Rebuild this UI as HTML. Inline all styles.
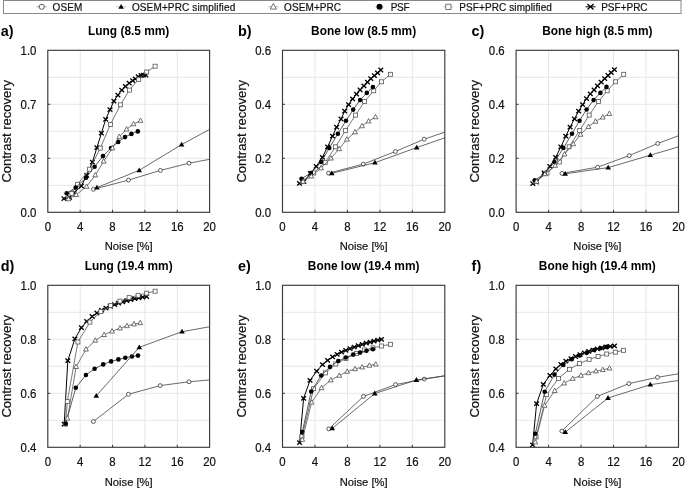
<!DOCTYPE html>
<html><head><meta charset="utf-8"><style>
html,body{margin:0;padding:0;background:#fff;}
svg{display:block;}
text{-webkit-font-smoothing:antialiased;}
body{will-change:transform;}
</style></head><body>
<svg width="685" height="489" viewBox="0 0 685 489" font-family='"Liberation Sans", sans-serif'>
<rect width="685" height="489" fill="#fff"/>
<defs>
<clipPath id="clipa"><rect x="47.8" y="44.3" width="161.8" height="168.0"/></clipPath>
<clipPath id="clipb"><rect x="282.5" y="44.3" width="162.3" height="168.0"/></clipPath>
<clipPath id="clipc"><rect x="516.1" y="44.3" width="162.4" height="168.0"/></clipPath>
<clipPath id="clipd"><rect x="47.8" y="279.3" width="161.8" height="168.0"/></clipPath>
<clipPath id="clipe"><rect x="282.5" y="279.3" width="162.3" height="168.0"/></clipPath>
<clipPath id="clipf"><rect x="516.1" y="279.3" width="162.4" height="168.0"/></clipPath>
</defs>
<rect x="3.5" y="0.5" width="677.5" height="13" fill="none" stroke="#888" stroke-width="1"/>
<line x1="36.7" y1="6.8" x2="46.7" y2="6.8" stroke="#777" stroke-width="0.7"/>
<circle cx="41.70" cy="6.80" r="2.54" fill="#fff" stroke="#333" stroke-width="0.8"/>
<text x="52.5" y="11.0" font-size="10" textLength="29.9" lengthAdjust="spacing" fill="#111" stroke="#111" stroke-width="0.2">OSEM</text>
<line x1="116.1" y1="6.8" x2="126.1" y2="6.8" stroke="#999" stroke-width="0.6"/>
<path d="M121.10,3.92 L123.90,8.72 L118.30,8.72Z" fill="#000"/>
<text x="131.9" y="11.0" font-size="10" textLength="103.3" lengthAdjust="spacing" fill="#111" stroke="#111" stroke-width="0.2">OSEM+PRC simplified</text>
<line x1="268.4" y1="6.8" x2="278.4" y2="6.8" stroke="#888" stroke-width="0.6"/>
<path d="M273.40,3.37 L276.52,9.09 L270.28,9.09Z" fill="#fff" stroke="#444" stroke-width="0.75"/>
<text x="284.1" y="11.0" font-size="10" textLength="57.0" lengthAdjust="spacing" fill="#111" stroke="#111" stroke-width="0.2">OSEM+PRC</text>
<line x1="374.5" y1="6.8" x2="384.5" y2="6.8" stroke="#bbb" stroke-width="0.6"/>
<circle cx="379.50" cy="6.80" r="2.99" fill="#000"/>
<text x="390.7" y="11.0" font-size="10" textLength="18.8" lengthAdjust="spacing" fill="#111" stroke="#111" stroke-width="0.2">PSF</text>
<line x1="443.4" y1="6.8" x2="453.4" y2="6.8" stroke="#999" stroke-width="0.6"/>
<rect x="445.80" y="4.20" width="5.20" height="5.20" fill="#fff" stroke="#555" stroke-width="0.8"/>
<text x="459.2" y="11.0" font-size="10" textLength="92.7" lengthAdjust="spacing" fill="#111" stroke="#111" stroke-width="0.2">PSF+PRC simplified</text>
<line x1="585.5" y1="6.8" x2="595.5" y2="6.8" stroke="#000" stroke-width="1.0"/>
<path d="M587.45,4.00 L593.55,9.59 M587.45,9.59 L593.55,4.00" stroke="#000" stroke-width="1.3" fill="none"/>
<text x="601.2" y="11.0" font-size="10" textLength="46.4" lengthAdjust="spacing" fill="#111" stroke="#111" stroke-width="0.2">PSF+PRC</text>
<line x1="80.16" y1="50.3" x2="80.16" y2="212.3" stroke="#e6e6e6" stroke-width="1"/>
<line x1="112.52" y1="50.3" x2="112.52" y2="212.3" stroke="#e6e6e6" stroke-width="1"/>
<line x1="144.88" y1="50.3" x2="144.88" y2="212.3" stroke="#e6e6e6" stroke-width="1"/>
<line x1="177.24" y1="50.3" x2="177.24" y2="212.3" stroke="#e6e6e6" stroke-width="1"/>
<line x1="47.8" y1="77.30" x2="209.60000000000002" y2="77.30" stroke="#e6e6e6" stroke-width="1"/>
<line x1="47.8" y1="104.30" x2="209.60000000000002" y2="104.30" stroke="#e6e6e6" stroke-width="1"/>
<line x1="47.8" y1="131.30" x2="209.60000000000002" y2="131.30" stroke="#e6e6e6" stroke-width="1"/>
<line x1="47.8" y1="158.30" x2="209.60000000000002" y2="158.30" stroke="#e6e6e6" stroke-width="1"/>
<line x1="47.8" y1="185.30" x2="209.60000000000002" y2="185.30" stroke="#e6e6e6" stroke-width="1"/>
<g clip-path="url(#clipa)">
<polyline points="64.00,198.70 69.50,197.40 74.00,192.80 81.40,186.00 86.70,175.30 92.40,162.10 96.90,147.60 101.40,133.20 105.70,119.40 110.00,109.70 113.90,101.10 117.90,95.10 121.80,90.10 125.40,86.40 129.20,83.20 132.70,80.70 135.30,78.80 138.20,76.70 141.10,75.50 143.40,75.20 145.80,75.00" fill="none" stroke="#000" stroke-width="1.0" stroke-linejoin="round"/>
<path d="M61.65,196.55 L66.35,200.85 M61.65,200.85 L66.35,196.55" stroke="#000" stroke-width="1.3" fill="none"/>
<path d="M67.15,195.25 L71.85,199.55 M67.15,199.55 L71.85,195.25" stroke="#000" stroke-width="1.3" fill="none"/>
<path d="M71.65,190.65 L76.35,194.95 M71.65,194.95 L76.35,190.65" stroke="#000" stroke-width="1.3" fill="none"/>
<path d="M79.05,183.85 L83.75,188.15 M79.05,188.15 L83.75,183.85" stroke="#000" stroke-width="1.3" fill="none"/>
<path d="M84.35,173.15 L89.05,177.45 M84.35,177.45 L89.05,173.15" stroke="#000" stroke-width="1.3" fill="none"/>
<path d="M90.05,159.95 L94.75,164.25 M90.05,164.25 L94.75,159.95" stroke="#000" stroke-width="1.3" fill="none"/>
<path d="M94.55,145.45 L99.25,149.75 M94.55,149.75 L99.25,145.45" stroke="#000" stroke-width="1.3" fill="none"/>
<path d="M99.05,131.05 L103.75,135.35 M99.05,135.35 L103.75,131.05" stroke="#000" stroke-width="1.3" fill="none"/>
<path d="M103.35,117.25 L108.05,121.55 M103.35,121.55 L108.05,117.25" stroke="#000" stroke-width="1.3" fill="none"/>
<path d="M107.65,107.55 L112.35,111.85 M107.65,111.85 L112.35,107.55" stroke="#000" stroke-width="1.3" fill="none"/>
<path d="M111.55,98.95 L116.25,103.25 M111.55,103.25 L116.25,98.95" stroke="#000" stroke-width="1.3" fill="none"/>
<path d="M115.55,92.95 L120.25,97.25 M115.55,97.25 L120.25,92.95" stroke="#000" stroke-width="1.3" fill="none"/>
<path d="M119.45,87.95 L124.15,92.25 M119.45,92.25 L124.15,87.95" stroke="#000" stroke-width="1.3" fill="none"/>
<path d="M123.05,84.25 L127.75,88.55 M123.05,88.55 L127.75,84.25" stroke="#000" stroke-width="1.3" fill="none"/>
<path d="M126.85,81.05 L131.55,85.35 M126.85,85.35 L131.55,81.05" stroke="#000" stroke-width="1.3" fill="none"/>
<path d="M130.35,78.55 L135.05,82.85 M130.35,82.85 L135.05,78.55" stroke="#000" stroke-width="1.3" fill="none"/>
<path d="M132.95,76.65 L137.65,80.95 M132.95,80.95 L137.65,76.65" stroke="#000" stroke-width="1.3" fill="none"/>
<path d="M135.85,74.55 L140.55,78.85 M135.85,78.85 L140.55,74.55" stroke="#000" stroke-width="1.3" fill="none"/>
<path d="M138.75,73.35 L143.45,77.65 M138.75,77.65 L143.45,73.35" stroke="#000" stroke-width="1.3" fill="none"/>
<path d="M141.05,73.05 L145.75,77.35 M141.05,77.35 L145.75,73.05" stroke="#000" stroke-width="1.3" fill="none"/>
<path d="M143.45,72.85 L148.15,77.15 M143.45,77.15 L148.15,72.85" stroke="#000" stroke-width="1.3" fill="none"/>
<polyline points="71.80,193.30 77.60,184.30 89.60,169.20 100.30,148.10 110.40,124.50 120.50,104.80 129.40,90.10 138.70,79.30 146.70,72.00 155.10,66.20" fill="none" stroke="#555" stroke-width="0.8" stroke-linejoin="round"/>
<rect x="69.80" y="191.30" width="4.00" height="4.00" fill="#fff" stroke="#555" stroke-width="0.8"/>
<rect x="75.60" y="182.30" width="4.00" height="4.00" fill="#fff" stroke="#555" stroke-width="0.8"/>
<rect x="87.60" y="167.20" width="4.00" height="4.00" fill="#fff" stroke="#555" stroke-width="0.8"/>
<rect x="98.30" y="146.10" width="4.00" height="4.00" fill="#fff" stroke="#555" stroke-width="0.8"/>
<rect x="108.40" y="122.50" width="4.00" height="4.00" fill="#fff" stroke="#555" stroke-width="0.8"/>
<rect x="118.50" y="102.80" width="4.00" height="4.00" fill="#fff" stroke="#555" stroke-width="0.8"/>
<rect x="127.40" y="88.10" width="4.00" height="4.00" fill="#fff" stroke="#555" stroke-width="0.8"/>
<rect x="136.70" y="77.30" width="4.00" height="4.00" fill="#fff" stroke="#555" stroke-width="0.8"/>
<rect x="144.70" y="70.00" width="4.00" height="4.00" fill="#fff" stroke="#555" stroke-width="0.8"/>
<rect x="153.10" y="64.20" width="4.00" height="4.00" fill="#fff" stroke="#555" stroke-width="0.8"/>
<polyline points="66.70,193.30 75.70,187.60 86.00,177.80 94.60,166.70 103.00,156.10 111.00,148.10 118.20,141.90 125.00,137.10 131.40,133.90 137.80,131.40" fill="none" stroke="#333" stroke-width="0.8" stroke-linejoin="round"/>
<circle cx="66.70" cy="193.30" r="2.30" fill="#000"/>
<circle cx="75.70" cy="187.60" r="2.30" fill="#000"/>
<circle cx="86.00" cy="177.80" r="2.30" fill="#000"/>
<circle cx="94.60" cy="166.70" r="2.30" fill="#000"/>
<circle cx="103.00" cy="156.10" r="2.30" fill="#000"/>
<circle cx="111.00" cy="148.10" r="2.30" fill="#000"/>
<circle cx="118.20" cy="141.90" r="2.30" fill="#000"/>
<circle cx="125.00" cy="137.10" r="2.30" fill="#000"/>
<circle cx="131.40" cy="133.90" r="2.30" fill="#000"/>
<circle cx="137.80" cy="131.40" r="2.30" fill="#000"/>
<polyline points="68.50,199.00 76.20,194.80 86.50,186.60 95.30,175.10 103.70,161.30 112.40,148.10 119.30,136.60 126.60,129.30 133.50,124.00 140.50,120.60" fill="none" stroke="#555" stroke-width="0.8" stroke-linejoin="round"/>
<path d="M68.50,196.36 L70.90,200.76 L66.10,200.76Z" fill="#fff" stroke="#444" stroke-width="0.75"/>
<path d="M76.20,192.16 L78.60,196.56 L73.80,196.56Z" fill="#fff" stroke="#444" stroke-width="0.75"/>
<path d="M86.50,183.96 L88.90,188.36 L84.10,188.36Z" fill="#fff" stroke="#444" stroke-width="0.75"/>
<path d="M95.30,172.46 L97.70,176.86 L92.90,176.86Z" fill="#fff" stroke="#444" stroke-width="0.75"/>
<path d="M103.70,158.66 L106.10,163.06 L101.30,163.06Z" fill="#fff" stroke="#444" stroke-width="0.75"/>
<path d="M112.40,145.46 L114.80,149.86 L110.00,149.86Z" fill="#fff" stroke="#444" stroke-width="0.75"/>
<path d="M119.30,133.96 L121.70,138.36 L116.90,138.36Z" fill="#fff" stroke="#444" stroke-width="0.75"/>
<path d="M126.60,126.66 L129.00,131.06 L124.20,131.06Z" fill="#fff" stroke="#444" stroke-width="0.75"/>
<path d="M133.50,121.36 L135.90,125.76 L131.10,125.76Z" fill="#fff" stroke="#444" stroke-width="0.75"/>
<path d="M140.50,117.96 L142.90,122.36 L138.10,122.36Z" fill="#fff" stroke="#444" stroke-width="0.75"/>
<polyline points="93.40,189.30 128.50,180.10 160.40,170.40 189.00,163.20 222.00,157.00" fill="none" stroke="#444" stroke-width="0.8" stroke-linejoin="round"/>
<circle cx="93.40" cy="189.30" r="1.95" fill="#fff" stroke="#333" stroke-width="0.8"/>
<circle cx="128.50" cy="180.10" r="1.95" fill="#fff" stroke="#333" stroke-width="0.8"/>
<circle cx="160.40" cy="170.40" r="1.95" fill="#fff" stroke="#333" stroke-width="0.8"/>
<circle cx="189.00" cy="163.20" r="1.95" fill="#fff" stroke="#333" stroke-width="0.8"/>
<polyline points="96.90,187.60 139.20,170.30 181.60,144.60 224.00,121.50" fill="none" stroke="#444" stroke-width="0.8" stroke-linejoin="round"/>
<path d="M96.90,184.72 L99.70,189.52 L94.10,189.52Z" fill="#000"/>
<path d="M139.20,167.42 L142.00,172.22 L136.40,172.22Z" fill="#000"/>
<path d="M181.60,141.72 L184.40,146.52 L178.80,146.52Z" fill="#000"/>
</g>
<rect x="47.8" y="50.3" width="161.8" height="162.0" fill="none" stroke="#3a3a3a" stroke-width="1.15"/>
<line x1="80.16" y1="212.3" x2="80.16" y2="209.8" stroke="#3a3a3a" stroke-width="1"/>
<line x1="112.52" y1="212.3" x2="112.52" y2="209.8" stroke="#3a3a3a" stroke-width="1"/>
<line x1="144.88" y1="212.3" x2="144.88" y2="209.8" stroke="#3a3a3a" stroke-width="1"/>
<line x1="177.24" y1="212.3" x2="177.24" y2="209.8" stroke="#3a3a3a" stroke-width="1"/>
<line x1="47.8" y1="104.30" x2="50.3" y2="104.30" stroke="#3a3a3a" stroke-width="1"/>
<line x1="47.8" y1="158.30" x2="50.3" y2="158.30" stroke="#3a3a3a" stroke-width="1"/>
<text transform="translate(47.80,230.75) scale(1,1.07)" font-size="11.4" text-anchor="middle" fill="#111" stroke="#111" stroke-width="0.2">0</text>
<text transform="translate(80.16,230.75) scale(1,1.07)" font-size="11.4" text-anchor="middle" fill="#111" stroke="#111" stroke-width="0.2">4</text>
<text transform="translate(112.52,230.75) scale(1,1.07)" font-size="11.4" text-anchor="middle" fill="#111" stroke="#111" stroke-width="0.2">8</text>
<text transform="translate(144.88,230.75) scale(1,1.07)" font-size="11.4" text-anchor="middle" fill="#111" stroke="#111" stroke-width="0.2">12</text>
<text transform="translate(177.24,230.75) scale(1,1.07)" font-size="11.4" text-anchor="middle" fill="#111" stroke="#111" stroke-width="0.2">16</text>
<text transform="translate(209.60,230.75) scale(1,1.07)" font-size="11.4" text-anchor="middle" fill="#111" stroke="#111" stroke-width="0.2">20</text>
<text transform="translate(36.40,216.80) scale(1,1.07)" font-size="11.4" text-anchor="end" fill="#111" stroke="#111" stroke-width="0.2">0.0</text>
<text transform="translate(36.40,162.80) scale(1,1.07)" font-size="11.4" text-anchor="end" fill="#111" stroke="#111" stroke-width="0.2">0.3</text>
<text transform="translate(36.40,108.80) scale(1,1.07)" font-size="11.4" text-anchor="end" fill="#111" stroke="#111" stroke-width="0.2">0.7</text>
<text transform="translate(36.40,54.80) scale(1,1.07)" font-size="11.4" text-anchor="end" fill="#111" stroke="#111" stroke-width="0.2">1.0</text>
<text x="128.70" y="34.70" font-size="11.9" font-weight="bold" text-anchor="middle" fill="#000">Lung (8.5 mm)</text>
<text x="0.70" y="36.00" font-size="14.4" font-weight="bold" fill="#000">a)</text>
<text transform="translate(11.00,131.30) rotate(-90)" font-size="13" text-anchor="middle" fill="#111" stroke="#111" stroke-width="0.2">Contrast recovery</text>
<text x="128.70" y="250.20" font-size="11.2" text-anchor="middle" fill="#111" stroke="#111" stroke-width="0.2">Noise [%]</text>
<line x1="314.96" y1="50.3" x2="314.96" y2="212.3" stroke="#e6e6e6" stroke-width="1"/>
<line x1="347.42" y1="50.3" x2="347.42" y2="212.3" stroke="#e6e6e6" stroke-width="1"/>
<line x1="379.88" y1="50.3" x2="379.88" y2="212.3" stroke="#e6e6e6" stroke-width="1"/>
<line x1="412.34" y1="50.3" x2="412.34" y2="212.3" stroke="#e6e6e6" stroke-width="1"/>
<line x1="282.5" y1="77.30" x2="444.8" y2="77.30" stroke="#e6e6e6" stroke-width="1"/>
<line x1="282.5" y1="104.30" x2="444.8" y2="104.30" stroke="#e6e6e6" stroke-width="1"/>
<line x1="282.5" y1="131.30" x2="444.8" y2="131.30" stroke="#e6e6e6" stroke-width="1"/>
<line x1="282.5" y1="158.30" x2="444.8" y2="158.30" stroke="#e6e6e6" stroke-width="1"/>
<line x1="282.5" y1="185.30" x2="444.8" y2="185.30" stroke="#e6e6e6" stroke-width="1"/>
<g clip-path="url(#clipb)">
<polyline points="299.50,183.30 303.90,181.70 310.40,173.50 316.20,166.40 322.40,157.40 327.60,146.80 332.50,136.20 336.60,127.20 341.00,119.00 344.70,111.20 348.60,104.70 352.60,98.90 356.50,94.10 360.10,89.80 363.90,85.80 367.50,82.20 370.80,78.60 374.40,75.70 377.50,72.90 380.80,70.00" fill="none" stroke="#000" stroke-width="1.0" stroke-linejoin="round"/>
<path d="M297.15,181.15 L301.85,185.45 M297.15,185.45 L301.85,181.15" stroke="#000" stroke-width="1.3" fill="none"/>
<path d="M301.55,179.55 L306.25,183.85 M301.55,183.85 L306.25,179.55" stroke="#000" stroke-width="1.3" fill="none"/>
<path d="M308.05,171.35 L312.75,175.65 M308.05,175.65 L312.75,171.35" stroke="#000" stroke-width="1.3" fill="none"/>
<path d="M313.85,164.25 L318.55,168.55 M313.85,168.55 L318.55,164.25" stroke="#000" stroke-width="1.3" fill="none"/>
<path d="M320.05,155.25 L324.75,159.55 M320.05,159.55 L324.75,155.25" stroke="#000" stroke-width="1.3" fill="none"/>
<path d="M325.25,144.65 L329.95,148.95 M325.25,148.95 L329.95,144.65" stroke="#000" stroke-width="1.3" fill="none"/>
<path d="M330.15,134.05 L334.85,138.35 M330.15,138.35 L334.85,134.05" stroke="#000" stroke-width="1.3" fill="none"/>
<path d="M334.25,125.05 L338.95,129.35 M334.25,129.35 L338.95,125.05" stroke="#000" stroke-width="1.3" fill="none"/>
<path d="M338.65,116.85 L343.35,121.15 M338.65,121.15 L343.35,116.85" stroke="#000" stroke-width="1.3" fill="none"/>
<path d="M342.35,109.05 L347.05,113.35 M342.35,113.35 L347.05,109.05" stroke="#000" stroke-width="1.3" fill="none"/>
<path d="M346.25,102.55 L350.95,106.85 M346.25,106.85 L350.95,102.55" stroke="#000" stroke-width="1.3" fill="none"/>
<path d="M350.25,96.75 L354.95,101.05 M350.25,101.05 L354.95,96.75" stroke="#000" stroke-width="1.3" fill="none"/>
<path d="M354.15,91.95 L358.85,96.25 M354.15,96.25 L358.85,91.95" stroke="#000" stroke-width="1.3" fill="none"/>
<path d="M357.75,87.65 L362.45,91.95 M357.75,91.95 L362.45,87.65" stroke="#000" stroke-width="1.3" fill="none"/>
<path d="M361.55,83.65 L366.25,87.95 M361.55,87.95 L366.25,83.65" stroke="#000" stroke-width="1.3" fill="none"/>
<path d="M365.15,80.05 L369.85,84.35 M365.15,84.35 L369.85,80.05" stroke="#000" stroke-width="1.3" fill="none"/>
<path d="M368.45,76.45 L373.15,80.75 M368.45,80.75 L373.15,76.45" stroke="#000" stroke-width="1.3" fill="none"/>
<path d="M372.05,73.55 L376.75,77.85 M372.05,77.85 L376.75,73.55" stroke="#000" stroke-width="1.3" fill="none"/>
<path d="M375.15,70.75 L379.85,75.05 M375.15,75.05 L379.85,70.75" stroke="#000" stroke-width="1.3" fill="none"/>
<path d="M378.45,67.85 L383.15,72.15 M378.45,72.15 L383.15,67.85" stroke="#000" stroke-width="1.3" fill="none"/>
<polyline points="302.50,181.00 313.70,173.00 325.20,162.40 335.50,146.80 345.60,130.40 355.50,115.10 364.60,101.50 373.70,90.80 381.50,81.80 390.40,74.30" fill="none" stroke="#555" stroke-width="0.8" stroke-linejoin="round"/>
<rect x="300.50" y="179.00" width="4.00" height="4.00" fill="#fff" stroke="#555" stroke-width="0.8"/>
<rect x="311.70" y="171.00" width="4.00" height="4.00" fill="#fff" stroke="#555" stroke-width="0.8"/>
<rect x="323.20" y="160.40" width="4.00" height="4.00" fill="#fff" stroke="#555" stroke-width="0.8"/>
<rect x="333.50" y="144.80" width="4.00" height="4.00" fill="#fff" stroke="#555" stroke-width="0.8"/>
<rect x="343.60" y="128.40" width="4.00" height="4.00" fill="#fff" stroke="#555" stroke-width="0.8"/>
<rect x="353.50" y="113.10" width="4.00" height="4.00" fill="#fff" stroke="#555" stroke-width="0.8"/>
<rect x="362.60" y="99.50" width="4.00" height="4.00" fill="#fff" stroke="#555" stroke-width="0.8"/>
<rect x="371.70" y="88.80" width="4.00" height="4.00" fill="#fff" stroke="#555" stroke-width="0.8"/>
<rect x="379.50" y="79.80" width="4.00" height="4.00" fill="#fff" stroke="#555" stroke-width="0.8"/>
<rect x="388.40" y="72.30" width="4.00" height="4.00" fill="#fff" stroke="#555" stroke-width="0.8"/>
<polyline points="301.50,178.70 310.90,173.00 321.10,162.00 329.30,148.00 337.90,133.70 346.00,120.70 353.20,109.60 360.10,100.10 366.80,92.90 372.90,87.10" fill="none" stroke="#333" stroke-width="0.8" stroke-linejoin="round"/>
<circle cx="301.50" cy="178.70" r="2.30" fill="#000"/>
<circle cx="310.90" cy="173.00" r="2.30" fill="#000"/>
<circle cx="321.10" cy="162.00" r="2.30" fill="#000"/>
<circle cx="329.30" cy="148.00" r="2.30" fill="#000"/>
<circle cx="337.90" cy="133.70" r="2.30" fill="#000"/>
<circle cx="346.00" cy="120.70" r="2.30" fill="#000"/>
<circle cx="353.20" cy="109.60" r="2.30" fill="#000"/>
<circle cx="360.10" cy="100.10" r="2.30" fill="#000"/>
<circle cx="366.80" cy="92.90" r="2.30" fill="#000"/>
<circle cx="372.90" cy="87.10" r="2.30" fill="#000"/>
<polyline points="303.00,181.50 311.30,176.30 321.10,168.10 330.90,158.30 339.10,148.90 346.90,139.40 355.10,132.10 362.00,126.00 368.60,121.20 375.50,117.00" fill="none" stroke="#555" stroke-width="0.8" stroke-linejoin="round"/>
<path d="M303.00,178.86 L305.40,183.26 L300.60,183.26Z" fill="#fff" stroke="#444" stroke-width="0.75"/>
<path d="M311.30,173.66 L313.70,178.06 L308.90,178.06Z" fill="#fff" stroke="#444" stroke-width="0.75"/>
<path d="M321.10,165.46 L323.50,169.86 L318.70,169.86Z" fill="#fff" stroke="#444" stroke-width="0.75"/>
<path d="M330.90,155.66 L333.30,160.06 L328.50,160.06Z" fill="#fff" stroke="#444" stroke-width="0.75"/>
<path d="M339.10,146.26 L341.50,150.66 L336.70,150.66Z" fill="#fff" stroke="#444" stroke-width="0.75"/>
<path d="M346.90,136.76 L349.30,141.16 L344.50,141.16Z" fill="#fff" stroke="#444" stroke-width="0.75"/>
<path d="M355.10,129.46 L357.50,133.86 L352.70,133.86Z" fill="#fff" stroke="#444" stroke-width="0.75"/>
<path d="M362.00,123.36 L364.40,127.76 L359.60,127.76Z" fill="#fff" stroke="#444" stroke-width="0.75"/>
<path d="M368.60,118.56 L371.00,122.96 L366.20,122.96Z" fill="#fff" stroke="#444" stroke-width="0.75"/>
<path d="M375.50,114.36 L377.90,118.76 L373.10,118.76Z" fill="#fff" stroke="#444" stroke-width="0.75"/>
<polyline points="328.60,173.20 363.30,164.10 395.30,151.50 424.20,139.20 460.00,127.00" fill="none" stroke="#444" stroke-width="0.8" stroke-linejoin="round"/>
<circle cx="328.60" cy="173.20" r="1.95" fill="#fff" stroke="#333" stroke-width="0.8"/>
<circle cx="363.30" cy="164.10" r="1.95" fill="#fff" stroke="#333" stroke-width="0.8"/>
<circle cx="395.30" cy="151.50" r="1.95" fill="#fff" stroke="#333" stroke-width="0.8"/>
<circle cx="424.20" cy="139.20" r="1.95" fill="#fff" stroke="#333" stroke-width="0.8"/>
<polyline points="331.80,173.30 374.90,162.70 416.70,147.60 460.00,132.50" fill="none" stroke="#444" stroke-width="0.8" stroke-linejoin="round"/>
<path d="M331.80,170.42 L334.60,175.22 L329.00,175.22Z" fill="#000"/>
<path d="M374.90,159.82 L377.70,164.62 L372.10,164.62Z" fill="#000"/>
<path d="M416.70,144.72 L419.50,149.52 L413.90,149.52Z" fill="#000"/>
</g>
<rect x="282.5" y="50.3" width="162.3" height="162.0" fill="none" stroke="#3a3a3a" stroke-width="1.15"/>
<line x1="314.96" y1="212.3" x2="314.96" y2="209.8" stroke="#3a3a3a" stroke-width="1"/>
<line x1="347.42" y1="212.3" x2="347.42" y2="209.8" stroke="#3a3a3a" stroke-width="1"/>
<line x1="379.88" y1="212.3" x2="379.88" y2="209.8" stroke="#3a3a3a" stroke-width="1"/>
<line x1="412.34" y1="212.3" x2="412.34" y2="209.8" stroke="#3a3a3a" stroke-width="1"/>
<line x1="282.5" y1="104.30" x2="285.0" y2="104.30" stroke="#3a3a3a" stroke-width="1"/>
<line x1="282.5" y1="158.30" x2="285.0" y2="158.30" stroke="#3a3a3a" stroke-width="1"/>
<text transform="translate(282.50,230.75) scale(1,1.07)" font-size="11.4" text-anchor="middle" fill="#111" stroke="#111" stroke-width="0.2">0</text>
<text transform="translate(314.96,230.75) scale(1,1.07)" font-size="11.4" text-anchor="middle" fill="#111" stroke="#111" stroke-width="0.2">4</text>
<text transform="translate(347.42,230.75) scale(1,1.07)" font-size="11.4" text-anchor="middle" fill="#111" stroke="#111" stroke-width="0.2">8</text>
<text transform="translate(379.88,230.75) scale(1,1.07)" font-size="11.4" text-anchor="middle" fill="#111" stroke="#111" stroke-width="0.2">12</text>
<text transform="translate(412.34,230.75) scale(1,1.07)" font-size="11.4" text-anchor="middle" fill="#111" stroke="#111" stroke-width="0.2">16</text>
<text transform="translate(444.80,230.75) scale(1,1.07)" font-size="11.4" text-anchor="middle" fill="#111" stroke="#111" stroke-width="0.2">20</text>
<text transform="translate(271.10,216.80) scale(1,1.07)" font-size="11.4" text-anchor="end" fill="#111" stroke="#111" stroke-width="0.2">0.0</text>
<text transform="translate(271.10,162.80) scale(1,1.07)" font-size="11.4" text-anchor="end" fill="#111" stroke="#111" stroke-width="0.2">0.2</text>
<text transform="translate(271.10,108.80) scale(1,1.07)" font-size="11.4" text-anchor="end" fill="#111" stroke="#111" stroke-width="0.2">0.4</text>
<text transform="translate(271.10,54.80) scale(1,1.07)" font-size="11.4" text-anchor="end" fill="#111" stroke="#111" stroke-width="0.2">0.6</text>
<text x="363.65" y="34.70" font-size="11.9" font-weight="bold" text-anchor="middle" fill="#000">Bone low (8.5 mm)</text>
<text x="237.90" y="36.00" font-size="14.4" font-weight="bold" fill="#000">b)</text>
<text transform="translate(245.70,131.30) rotate(-90)" font-size="13" text-anchor="middle" fill="#111" stroke="#111" stroke-width="0.2">Contrast recovery</text>
<text x="363.65" y="250.20" font-size="11.2" text-anchor="middle" fill="#111" stroke="#111" stroke-width="0.2">Noise [%]</text>
<line x1="548.58" y1="50.3" x2="548.58" y2="212.3" stroke="#e6e6e6" stroke-width="1"/>
<line x1="581.06" y1="50.3" x2="581.06" y2="212.3" stroke="#e6e6e6" stroke-width="1"/>
<line x1="613.54" y1="50.3" x2="613.54" y2="212.3" stroke="#e6e6e6" stroke-width="1"/>
<line x1="646.02" y1="50.3" x2="646.02" y2="212.3" stroke="#e6e6e6" stroke-width="1"/>
<line x1="516.1" y1="77.30" x2="678.5" y2="77.30" stroke="#e6e6e6" stroke-width="1"/>
<line x1="516.1" y1="104.30" x2="678.5" y2="104.30" stroke="#e6e6e6" stroke-width="1"/>
<line x1="516.1" y1="131.30" x2="678.5" y2="131.30" stroke="#e6e6e6" stroke-width="1"/>
<line x1="516.1" y1="158.30" x2="678.5" y2="158.30" stroke="#e6e6e6" stroke-width="1"/>
<line x1="516.1" y1="185.30" x2="678.5" y2="185.30" stroke="#e6e6e6" stroke-width="1"/>
<g clip-path="url(#clipc)">
<polyline points="532.80,183.60 536.40,182.00 544.20,173.00 549.90,166.40 555.70,157.40 560.90,146.80 565.80,136.20 570.10,127.10 574.50,118.80 578.60,111.20 582.60,104.70 586.50,98.60 590.30,93.90 594.10,89.80 597.50,85.80 601.20,82.20 604.70,78.60 608.00,75.50 611.20,72.60 614.40,69.70" fill="none" stroke="#000" stroke-width="1.0" stroke-linejoin="round"/>
<path d="M530.45,181.45 L535.15,185.75 M530.45,185.75 L535.15,181.45" stroke="#000" stroke-width="1.3" fill="none"/>
<path d="M534.05,179.85 L538.75,184.15 M534.05,184.15 L538.75,179.85" stroke="#000" stroke-width="1.3" fill="none"/>
<path d="M541.85,170.85 L546.55,175.15 M541.85,175.15 L546.55,170.85" stroke="#000" stroke-width="1.3" fill="none"/>
<path d="M547.55,164.25 L552.25,168.55 M547.55,168.55 L552.25,164.25" stroke="#000" stroke-width="1.3" fill="none"/>
<path d="M553.35,155.25 L558.05,159.55 M553.35,159.55 L558.05,155.25" stroke="#000" stroke-width="1.3" fill="none"/>
<path d="M558.55,144.65 L563.25,148.95 M558.55,148.95 L563.25,144.65" stroke="#000" stroke-width="1.3" fill="none"/>
<path d="M563.45,134.05 L568.15,138.35 M563.45,138.35 L568.15,134.05" stroke="#000" stroke-width="1.3" fill="none"/>
<path d="M567.75,124.95 L572.45,129.25 M567.75,129.25 L572.45,124.95" stroke="#000" stroke-width="1.3" fill="none"/>
<path d="M572.15,116.65 L576.85,120.95 M572.15,120.95 L576.85,116.65" stroke="#000" stroke-width="1.3" fill="none"/>
<path d="M576.25,109.05 L580.95,113.35 M576.25,113.35 L580.95,109.05" stroke="#000" stroke-width="1.3" fill="none"/>
<path d="M580.25,102.55 L584.95,106.85 M580.25,106.85 L584.95,102.55" stroke="#000" stroke-width="1.3" fill="none"/>
<path d="M584.15,96.45 L588.85,100.75 M584.15,100.75 L588.85,96.45" stroke="#000" stroke-width="1.3" fill="none"/>
<path d="M587.95,91.75 L592.65,96.05 M587.95,96.05 L592.65,91.75" stroke="#000" stroke-width="1.3" fill="none"/>
<path d="M591.75,87.65 L596.45,91.95 M591.75,91.95 L596.45,87.65" stroke="#000" stroke-width="1.3" fill="none"/>
<path d="M595.15,83.65 L599.85,87.95 M595.15,87.95 L599.85,83.65" stroke="#000" stroke-width="1.3" fill="none"/>
<path d="M598.85,80.05 L603.55,84.35 M598.85,84.35 L603.55,80.05" stroke="#000" stroke-width="1.3" fill="none"/>
<path d="M602.35,76.45 L607.05,80.75 M602.35,80.75 L607.05,76.45" stroke="#000" stroke-width="1.3" fill="none"/>
<path d="M605.65,73.35 L610.35,77.65 M605.65,77.65 L610.35,73.35" stroke="#000" stroke-width="1.3" fill="none"/>
<path d="M608.85,70.45 L613.55,74.75 M608.85,74.75 L613.55,70.45" stroke="#000" stroke-width="1.3" fill="none"/>
<path d="M612.05,67.55 L616.75,71.85 M612.05,71.85 L616.75,67.55" stroke="#000" stroke-width="1.3" fill="none"/>
<polyline points="535.50,181.50 547.00,173.00 559.30,162.00 569.10,146.80 579.70,130.40 589.20,115.10 598.40,101.50 607.20,90.80 615.50,81.80 623.70,74.30" fill="none" stroke="#555" stroke-width="0.8" stroke-linejoin="round"/>
<rect x="533.50" y="179.50" width="4.00" height="4.00" fill="#fff" stroke="#555" stroke-width="0.8"/>
<rect x="545.00" y="171.00" width="4.00" height="4.00" fill="#fff" stroke="#555" stroke-width="0.8"/>
<rect x="557.30" y="160.00" width="4.00" height="4.00" fill="#fff" stroke="#555" stroke-width="0.8"/>
<rect x="567.10" y="144.80" width="4.00" height="4.00" fill="#fff" stroke="#555" stroke-width="0.8"/>
<rect x="577.70" y="128.40" width="4.00" height="4.00" fill="#fff" stroke="#555" stroke-width="0.8"/>
<rect x="587.20" y="113.10" width="4.00" height="4.00" fill="#fff" stroke="#555" stroke-width="0.8"/>
<rect x="596.40" y="99.50" width="4.00" height="4.00" fill="#fff" stroke="#555" stroke-width="0.8"/>
<rect x="605.20" y="88.80" width="4.00" height="4.00" fill="#fff" stroke="#555" stroke-width="0.8"/>
<rect x="613.50" y="79.80" width="4.00" height="4.00" fill="#fff" stroke="#555" stroke-width="0.8"/>
<rect x="621.70" y="72.30" width="4.00" height="4.00" fill="#fff" stroke="#555" stroke-width="0.8"/>
<polyline points="534.70,180.30 544.50,173.80 554.40,162.00 563.40,148.00 572.00,133.70 579.50,120.70 586.60,109.50 593.60,100.10 600.40,92.90 606.50,86.90" fill="none" stroke="#333" stroke-width="0.8" stroke-linejoin="round"/>
<circle cx="534.70" cy="180.30" r="2.30" fill="#000"/>
<circle cx="544.50" cy="173.80" r="2.30" fill="#000"/>
<circle cx="554.40" cy="162.00" r="2.30" fill="#000"/>
<circle cx="563.40" cy="148.00" r="2.30" fill="#000"/>
<circle cx="572.00" cy="133.70" r="2.30" fill="#000"/>
<circle cx="579.50" cy="120.70" r="2.30" fill="#000"/>
<circle cx="586.60" cy="109.50" r="2.30" fill="#000"/>
<circle cx="593.60" cy="100.10" r="2.30" fill="#000"/>
<circle cx="600.40" cy="92.90" r="2.30" fill="#000"/>
<circle cx="606.50" cy="86.90" r="2.30" fill="#000"/>
<polyline points="536.50,181.50 545.00,174.00 555.20,165.60 564.50,154.20 573.20,144.00 580.50,134.50 588.50,126.70 595.50,121.40 602.70,117.30 609.40,113.70" fill="none" stroke="#555" stroke-width="0.8" stroke-linejoin="round"/>
<path d="M536.50,178.86 L538.90,183.26 L534.10,183.26Z" fill="#fff" stroke="#444" stroke-width="0.75"/>
<path d="M545.00,171.36 L547.40,175.76 L542.60,175.76Z" fill="#fff" stroke="#444" stroke-width="0.75"/>
<path d="M555.20,162.96 L557.60,167.36 L552.80,167.36Z" fill="#fff" stroke="#444" stroke-width="0.75"/>
<path d="M564.50,151.56 L566.90,155.96 L562.10,155.96Z" fill="#fff" stroke="#444" stroke-width="0.75"/>
<path d="M573.20,141.36 L575.60,145.76 L570.80,145.76Z" fill="#fff" stroke="#444" stroke-width="0.75"/>
<path d="M580.50,131.86 L582.90,136.26 L578.10,136.26Z" fill="#fff" stroke="#444" stroke-width="0.75"/>
<path d="M588.50,124.06 L590.90,128.46 L586.10,128.46Z" fill="#fff" stroke="#444" stroke-width="0.75"/>
<path d="M595.50,118.76 L597.90,123.16 L593.10,123.16Z" fill="#fff" stroke="#444" stroke-width="0.75"/>
<path d="M602.70,114.66 L605.10,119.06 L600.30,119.06Z" fill="#fff" stroke="#444" stroke-width="0.75"/>
<path d="M609.40,111.06 L611.80,115.46 L607.00,115.46Z" fill="#fff" stroke="#444" stroke-width="0.75"/>
<polyline points="562.00,173.40 597.60,167.20 629.20,155.60 657.70,143.50 695.00,129.50" fill="none" stroke="#444" stroke-width="0.8" stroke-linejoin="round"/>
<circle cx="562.00" cy="173.40" r="1.95" fill="#fff" stroke="#333" stroke-width="0.8"/>
<circle cx="597.60" cy="167.20" r="1.95" fill="#fff" stroke="#333" stroke-width="0.8"/>
<circle cx="629.20" cy="155.60" r="1.95" fill="#fff" stroke="#333" stroke-width="0.8"/>
<circle cx="657.70" cy="143.50" r="1.95" fill="#fff" stroke="#333" stroke-width="0.8"/>
<polyline points="565.20,173.80 608.20,167.60 650.30,155.20 695.00,142.00" fill="none" stroke="#444" stroke-width="0.8" stroke-linejoin="round"/>
<path d="M565.20,170.92 L568.00,175.72 L562.40,175.72Z" fill="#000"/>
<path d="M608.20,164.72 L611.00,169.52 L605.40,169.52Z" fill="#000"/>
<path d="M650.30,152.32 L653.10,157.12 L647.50,157.12Z" fill="#000"/>
</g>
<rect x="516.1" y="50.3" width="162.4" height="162.0" fill="none" stroke="#3a3a3a" stroke-width="1.15"/>
<line x1="548.58" y1="212.3" x2="548.58" y2="209.8" stroke="#3a3a3a" stroke-width="1"/>
<line x1="581.06" y1="212.3" x2="581.06" y2="209.8" stroke="#3a3a3a" stroke-width="1"/>
<line x1="613.54" y1="212.3" x2="613.54" y2="209.8" stroke="#3a3a3a" stroke-width="1"/>
<line x1="646.02" y1="212.3" x2="646.02" y2="209.8" stroke="#3a3a3a" stroke-width="1"/>
<line x1="516.1" y1="104.30" x2="518.6" y2="104.30" stroke="#3a3a3a" stroke-width="1"/>
<line x1="516.1" y1="158.30" x2="518.6" y2="158.30" stroke="#3a3a3a" stroke-width="1"/>
<text transform="translate(516.10,230.75) scale(1,1.07)" font-size="11.4" text-anchor="middle" fill="#111" stroke="#111" stroke-width="0.2">0</text>
<text transform="translate(548.58,230.75) scale(1,1.07)" font-size="11.4" text-anchor="middle" fill="#111" stroke="#111" stroke-width="0.2">4</text>
<text transform="translate(581.06,230.75) scale(1,1.07)" font-size="11.4" text-anchor="middle" fill="#111" stroke="#111" stroke-width="0.2">8</text>
<text transform="translate(613.54,230.75) scale(1,1.07)" font-size="11.4" text-anchor="middle" fill="#111" stroke="#111" stroke-width="0.2">12</text>
<text transform="translate(646.02,230.75) scale(1,1.07)" font-size="11.4" text-anchor="middle" fill="#111" stroke="#111" stroke-width="0.2">16</text>
<text transform="translate(678.50,230.75) scale(1,1.07)" font-size="11.4" text-anchor="middle" fill="#111" stroke="#111" stroke-width="0.2">20</text>
<text transform="translate(504.70,216.80) scale(1,1.07)" font-size="11.4" text-anchor="end" fill="#111" stroke="#111" stroke-width="0.2">0.0</text>
<text transform="translate(504.70,162.80) scale(1,1.07)" font-size="11.4" text-anchor="end" fill="#111" stroke="#111" stroke-width="0.2">0.2</text>
<text transform="translate(504.70,108.80) scale(1,1.07)" font-size="11.4" text-anchor="end" fill="#111" stroke="#111" stroke-width="0.2">0.4</text>
<text transform="translate(504.70,54.80) scale(1,1.07)" font-size="11.4" text-anchor="end" fill="#111" stroke="#111" stroke-width="0.2">0.6</text>
<text x="597.30" y="34.70" font-size="11.9" font-weight="bold" text-anchor="middle" fill="#000">Bone high (8.5 mm)</text>
<text x="471.60" y="36.00" font-size="14.4" font-weight="bold" fill="#000">c)</text>
<text transform="translate(479.30,131.30) rotate(-90)" font-size="13" text-anchor="middle" fill="#111" stroke="#111" stroke-width="0.2">Contrast recovery</text>
<text x="597.30" y="250.20" font-size="11.2" text-anchor="middle" fill="#111" stroke="#111" stroke-width="0.2">Noise [%]</text>
<line x1="80.16" y1="285.3" x2="80.16" y2="447.3" stroke="#e6e6e6" stroke-width="1"/>
<line x1="112.52" y1="285.3" x2="112.52" y2="447.3" stroke="#e6e6e6" stroke-width="1"/>
<line x1="144.88" y1="285.3" x2="144.88" y2="447.3" stroke="#e6e6e6" stroke-width="1"/>
<line x1="177.24" y1="285.3" x2="177.24" y2="447.3" stroke="#e6e6e6" stroke-width="1"/>
<line x1="47.8" y1="312.30" x2="209.60000000000002" y2="312.30" stroke="#e6e6e6" stroke-width="1"/>
<line x1="47.8" y1="339.30" x2="209.60000000000002" y2="339.30" stroke="#e6e6e6" stroke-width="1"/>
<line x1="47.8" y1="366.30" x2="209.60000000000002" y2="366.30" stroke="#e6e6e6" stroke-width="1"/>
<line x1="47.8" y1="393.30" x2="209.60000000000002" y2="393.30" stroke="#e6e6e6" stroke-width="1"/>
<line x1="47.8" y1="420.30" x2="209.60000000000002" y2="420.30" stroke="#e6e6e6" stroke-width="1"/>
<g clip-path="url(#clipd)">
<polyline points="64.20,424.20 67.80,360.70 74.90,338.80 81.40,327.70 86.70,321.40 92.20,316.50 96.90,313.00 101.60,310.10 106.00,308.20 110.30,306.30 114.50,304.60 118.60,303.10 122.70,301.80 126.80,300.60 130.80,299.60 134.80,298.70 138.80,297.90 142.70,297.20 146.60,296.60" fill="none" stroke="#000" stroke-width="1.0" stroke-linejoin="round"/>
<path d="M61.85,422.05 L66.55,426.35 M61.85,426.35 L66.55,422.05" stroke="#000" stroke-width="1.3" fill="none"/>
<path d="M65.45,358.55 L70.15,362.85 M65.45,362.85 L70.15,358.55" stroke="#000" stroke-width="1.3" fill="none"/>
<path d="M72.55,336.65 L77.25,340.95 M72.55,340.95 L77.25,336.65" stroke="#000" stroke-width="1.3" fill="none"/>
<path d="M79.05,325.55 L83.75,329.85 M79.05,329.85 L83.75,325.55" stroke="#000" stroke-width="1.3" fill="none"/>
<path d="M84.35,319.25 L89.05,323.55 M84.35,323.55 L89.05,319.25" stroke="#000" stroke-width="1.3" fill="none"/>
<path d="M89.85,314.35 L94.55,318.65 M89.85,318.65 L94.55,314.35" stroke="#000" stroke-width="1.3" fill="none"/>
<path d="M94.55,310.85 L99.25,315.15 M94.55,315.15 L99.25,310.85" stroke="#000" stroke-width="1.3" fill="none"/>
<path d="M99.25,307.95 L103.95,312.25 M99.25,312.25 L103.95,307.95" stroke="#000" stroke-width="1.3" fill="none"/>
<path d="M103.65,306.05 L108.35,310.35 M103.65,310.35 L108.35,306.05" stroke="#000" stroke-width="1.3" fill="none"/>
<path d="M107.95,304.15 L112.65,308.45 M107.95,308.45 L112.65,304.15" stroke="#000" stroke-width="1.3" fill="none"/>
<path d="M112.15,302.45 L116.85,306.75 M112.15,306.75 L116.85,302.45" stroke="#000" stroke-width="1.3" fill="none"/>
<path d="M116.25,300.95 L120.95,305.25 M116.25,305.25 L120.95,300.95" stroke="#000" stroke-width="1.3" fill="none"/>
<path d="M120.35,299.65 L125.05,303.95 M120.35,303.95 L125.05,299.65" stroke="#000" stroke-width="1.3" fill="none"/>
<path d="M124.45,298.45 L129.15,302.75 M124.45,302.75 L129.15,298.45" stroke="#000" stroke-width="1.3" fill="none"/>
<path d="M128.45,297.45 L133.15,301.75 M128.45,301.75 L133.15,297.45" stroke="#000" stroke-width="1.3" fill="none"/>
<path d="M132.45,296.55 L137.15,300.85 M132.45,300.85 L137.15,296.55" stroke="#000" stroke-width="1.3" fill="none"/>
<path d="M136.45,295.75 L141.15,300.05 M136.45,300.05 L141.15,295.75" stroke="#000" stroke-width="1.3" fill="none"/>
<path d="M140.35,295.05 L145.05,299.35 M140.35,299.35 L145.05,295.05" stroke="#000" stroke-width="1.3" fill="none"/>
<path d="M144.25,294.45 L148.95,298.75 M144.25,298.75 L148.95,294.45" stroke="#000" stroke-width="1.3" fill="none"/>
<polyline points="65.50,424.00 67.30,401.50 77.90,342.00 89.90,322.10 100.80,311.60 110.70,305.40 120.00,301.10 129.10,297.60 138.10,295.30 146.70,293.20 155.10,291.20" fill="none" stroke="#555" stroke-width="0.8" stroke-linejoin="round"/>
<rect x="63.50" y="422.00" width="4.00" height="4.00" fill="#fff" stroke="#555" stroke-width="0.8"/>
<rect x="65.30" y="399.50" width="4.00" height="4.00" fill="#fff" stroke="#555" stroke-width="0.8"/>
<rect x="75.90" y="340.00" width="4.00" height="4.00" fill="#fff" stroke="#555" stroke-width="0.8"/>
<rect x="87.90" y="320.10" width="4.00" height="4.00" fill="#fff" stroke="#555" stroke-width="0.8"/>
<rect x="98.80" y="309.60" width="4.00" height="4.00" fill="#fff" stroke="#555" stroke-width="0.8"/>
<rect x="108.70" y="303.40" width="4.00" height="4.00" fill="#fff" stroke="#555" stroke-width="0.8"/>
<rect x="118.00" y="299.10" width="4.00" height="4.00" fill="#fff" stroke="#555" stroke-width="0.8"/>
<rect x="127.10" y="295.60" width="4.00" height="4.00" fill="#fff" stroke="#555" stroke-width="0.8"/>
<rect x="136.10" y="293.30" width="4.00" height="4.00" fill="#fff" stroke="#555" stroke-width="0.8"/>
<rect x="144.70" y="291.20" width="4.00" height="4.00" fill="#fff" stroke="#555" stroke-width="0.8"/>
<rect x="153.10" y="289.20" width="4.00" height="4.00" fill="#fff" stroke="#555" stroke-width="0.8"/>
<polyline points="65.60,423.80 75.80,387.70 85.90,375.00 94.60,368.80 103.20,364.40 111.10,361.40 118.40,359.40 125.30,357.70 131.90,356.50 138.00,355.60" fill="none" stroke="#333" stroke-width="0.8" stroke-linejoin="round"/>
<circle cx="65.60" cy="423.80" r="2.30" fill="#000"/>
<circle cx="75.80" cy="387.70" r="2.30" fill="#000"/>
<circle cx="85.90" cy="375.00" r="2.30" fill="#000"/>
<circle cx="94.60" cy="368.80" r="2.30" fill="#000"/>
<circle cx="103.20" cy="364.40" r="2.30" fill="#000"/>
<circle cx="111.10" cy="361.40" r="2.30" fill="#000"/>
<circle cx="118.40" cy="359.40" r="2.30" fill="#000"/>
<circle cx="125.30" cy="357.70" r="2.30" fill="#000"/>
<circle cx="131.90" cy="356.50" r="2.30" fill="#000"/>
<circle cx="138.00" cy="355.60" r="2.30" fill="#000"/>
<polyline points="67.50,418.30 76.10,366.80 86.00,349.30 95.30,340.40 104.10,334.80 112.00,331.20 120.00,328.20 127.00,325.90 134.00,324.10 140.30,322.90" fill="none" stroke="#555" stroke-width="0.8" stroke-linejoin="round"/>
<path d="M67.50,415.66 L69.90,420.06 L65.10,420.06Z" fill="#fff" stroke="#444" stroke-width="0.75"/>
<path d="M76.10,364.16 L78.50,368.56 L73.70,368.56Z" fill="#fff" stroke="#444" stroke-width="0.75"/>
<path d="M86.00,346.66 L88.40,351.06 L83.60,351.06Z" fill="#fff" stroke="#444" stroke-width="0.75"/>
<path d="M95.30,337.76 L97.70,342.16 L92.90,342.16Z" fill="#fff" stroke="#444" stroke-width="0.75"/>
<path d="M104.10,332.16 L106.50,336.56 L101.70,336.56Z" fill="#fff" stroke="#444" stroke-width="0.75"/>
<path d="M112.00,328.56 L114.40,332.96 L109.60,332.96Z" fill="#fff" stroke="#444" stroke-width="0.75"/>
<path d="M120.00,325.56 L122.40,329.96 L117.60,329.96Z" fill="#fff" stroke="#444" stroke-width="0.75"/>
<path d="M127.00,323.26 L129.40,327.66 L124.60,327.66Z" fill="#fff" stroke="#444" stroke-width="0.75"/>
<path d="M134.00,321.46 L136.40,325.86 L131.60,325.86Z" fill="#fff" stroke="#444" stroke-width="0.75"/>
<path d="M140.30,320.26 L142.70,324.66 L137.90,324.66Z" fill="#fff" stroke="#444" stroke-width="0.75"/>
<polyline points="93.40,421.50 128.40,394.30 160.20,385.60 189.00,381.80 225.00,378.50" fill="none" stroke="#444" stroke-width="0.8" stroke-linejoin="round"/>
<circle cx="93.40" cy="421.50" r="1.95" fill="#fff" stroke="#333" stroke-width="0.8"/>
<circle cx="128.40" cy="394.30" r="1.95" fill="#fff" stroke="#333" stroke-width="0.8"/>
<circle cx="160.20" cy="385.60" r="1.95" fill="#fff" stroke="#333" stroke-width="0.8"/>
<circle cx="189.00" cy="381.80" r="1.95" fill="#fff" stroke="#333" stroke-width="0.8"/>
<polyline points="96.30,395.80 139.30,347.30 182.00,331.70 225.00,324.00" fill="none" stroke="#444" stroke-width="0.8" stroke-linejoin="round"/>
<path d="M96.30,392.92 L99.10,397.72 L93.50,397.72Z" fill="#000"/>
<path d="M139.30,344.42 L142.10,349.22 L136.50,349.22Z" fill="#000"/>
<path d="M182.00,328.82 L184.80,333.62 L179.20,333.62Z" fill="#000"/>
</g>
<rect x="47.8" y="285.3" width="161.8" height="162.0" fill="none" stroke="#3a3a3a" stroke-width="1.15"/>
<line x1="80.16" y1="447.3" x2="80.16" y2="444.8" stroke="#3a3a3a" stroke-width="1"/>
<line x1="112.52" y1="447.3" x2="112.52" y2="444.8" stroke="#3a3a3a" stroke-width="1"/>
<line x1="144.88" y1="447.3" x2="144.88" y2="444.8" stroke="#3a3a3a" stroke-width="1"/>
<line x1="177.24" y1="447.3" x2="177.24" y2="444.8" stroke="#3a3a3a" stroke-width="1"/>
<line x1="47.8" y1="339.30" x2="50.3" y2="339.30" stroke="#3a3a3a" stroke-width="1"/>
<line x1="47.8" y1="393.30" x2="50.3" y2="393.30" stroke="#3a3a3a" stroke-width="1"/>
<text transform="translate(47.80,465.75) scale(1,1.07)" font-size="11.4" text-anchor="middle" fill="#111" stroke="#111" stroke-width="0.2">0</text>
<text transform="translate(80.16,465.75) scale(1,1.07)" font-size="11.4" text-anchor="middle" fill="#111" stroke="#111" stroke-width="0.2">4</text>
<text transform="translate(112.52,465.75) scale(1,1.07)" font-size="11.4" text-anchor="middle" fill="#111" stroke="#111" stroke-width="0.2">8</text>
<text transform="translate(144.88,465.75) scale(1,1.07)" font-size="11.4" text-anchor="middle" fill="#111" stroke="#111" stroke-width="0.2">12</text>
<text transform="translate(177.24,465.75) scale(1,1.07)" font-size="11.4" text-anchor="middle" fill="#111" stroke="#111" stroke-width="0.2">16</text>
<text transform="translate(209.60,465.75) scale(1,1.07)" font-size="11.4" text-anchor="middle" fill="#111" stroke="#111" stroke-width="0.2">20</text>
<text transform="translate(36.40,452.00) scale(1,1.07)" font-size="11.4" text-anchor="end" fill="#111" stroke="#111" stroke-width="0.2">0.4</text>
<text transform="translate(36.40,398.00) scale(1,1.07)" font-size="11.4" text-anchor="end" fill="#111" stroke="#111" stroke-width="0.2">0.6</text>
<text transform="translate(36.40,344.00) scale(1,1.07)" font-size="11.4" text-anchor="end" fill="#111" stroke="#111" stroke-width="0.2">0.8</text>
<text transform="translate(36.40,290.00) scale(1,1.07)" font-size="11.4" text-anchor="end" fill="#111" stroke="#111" stroke-width="0.2">1.0</text>
<text x="128.70" y="269.70" font-size="11.9" font-weight="bold" text-anchor="middle" fill="#000">Lung (19.4 mm)</text>
<text x="0.70" y="271.00" font-size="14.4" font-weight="bold" fill="#000">d)</text>
<text transform="translate(11.00,366.30) rotate(-90)" font-size="13" text-anchor="middle" fill="#111" stroke="#111" stroke-width="0.2">Contrast recovery</text>
<text x="128.70" y="485.90" font-size="11.2" text-anchor="middle" fill="#111" stroke="#111" stroke-width="0.2">Noise [%]</text>
<line x1="314.96" y1="285.3" x2="314.96" y2="447.3" stroke="#e6e6e6" stroke-width="1"/>
<line x1="347.42" y1="285.3" x2="347.42" y2="447.3" stroke="#e6e6e6" stroke-width="1"/>
<line x1="379.88" y1="285.3" x2="379.88" y2="447.3" stroke="#e6e6e6" stroke-width="1"/>
<line x1="412.34" y1="285.3" x2="412.34" y2="447.3" stroke="#e6e6e6" stroke-width="1"/>
<line x1="282.5" y1="312.30" x2="444.8" y2="312.30" stroke="#e6e6e6" stroke-width="1"/>
<line x1="282.5" y1="339.30" x2="444.8" y2="339.30" stroke="#e6e6e6" stroke-width="1"/>
<line x1="282.5" y1="366.30" x2="444.8" y2="366.30" stroke="#e6e6e6" stroke-width="1"/>
<line x1="282.5" y1="393.30" x2="444.8" y2="393.30" stroke="#e6e6e6" stroke-width="1"/>
<line x1="282.5" y1="420.30" x2="444.8" y2="420.30" stroke="#e6e6e6" stroke-width="1"/>
<g clip-path="url(#clipe)">
<polyline points="299.60,442.70 303.60,398.40 310.00,380.40 316.70,371.20 322.50,364.60 327.60,360.30 332.60,356.90 337.20,354.30 341.50,352.20 345.80,350.30 350.00,348.60 354.20,347.10 358.30,345.70 362.30,344.40 366.30,343.20 370.20,342.10 374.00,341.10 377.80,340.20 381.50,339.40" fill="none" stroke="#000" stroke-width="1.0" stroke-linejoin="round"/>
<path d="M297.25,440.55 L301.95,444.85 M297.25,444.85 L301.95,440.55" stroke="#000" stroke-width="1.3" fill="none"/>
<path d="M301.25,396.25 L305.95,400.55 M301.25,400.55 L305.95,396.25" stroke="#000" stroke-width="1.3" fill="none"/>
<path d="M307.65,378.25 L312.35,382.55 M307.65,382.55 L312.35,378.25" stroke="#000" stroke-width="1.3" fill="none"/>
<path d="M314.35,369.05 L319.05,373.35 M314.35,373.35 L319.05,369.05" stroke="#000" stroke-width="1.3" fill="none"/>
<path d="M320.15,362.45 L324.85,366.75 M320.15,366.75 L324.85,362.45" stroke="#000" stroke-width="1.3" fill="none"/>
<path d="M325.25,358.15 L329.95,362.45 M325.25,362.45 L329.95,358.15" stroke="#000" stroke-width="1.3" fill="none"/>
<path d="M330.25,354.75 L334.95,359.05 M330.25,359.05 L334.95,354.75" stroke="#000" stroke-width="1.3" fill="none"/>
<path d="M334.85,352.15 L339.55,356.45 M334.85,356.45 L339.55,352.15" stroke="#000" stroke-width="1.3" fill="none"/>
<path d="M339.15,350.05 L343.85,354.35 M339.15,354.35 L343.85,350.05" stroke="#000" stroke-width="1.3" fill="none"/>
<path d="M343.45,348.15 L348.15,352.45 M343.45,352.45 L348.15,348.15" stroke="#000" stroke-width="1.3" fill="none"/>
<path d="M347.65,346.45 L352.35,350.75 M347.65,350.75 L352.35,346.45" stroke="#000" stroke-width="1.3" fill="none"/>
<path d="M351.85,344.95 L356.55,349.25 M351.85,349.25 L356.55,344.95" stroke="#000" stroke-width="1.3" fill="none"/>
<path d="M355.95,343.55 L360.65,347.85 M355.95,347.85 L360.65,343.55" stroke="#000" stroke-width="1.3" fill="none"/>
<path d="M359.95,342.25 L364.65,346.55 M359.95,346.55 L364.65,342.25" stroke="#000" stroke-width="1.3" fill="none"/>
<path d="M363.95,341.05 L368.65,345.35 M363.95,345.35 L368.65,341.05" stroke="#000" stroke-width="1.3" fill="none"/>
<path d="M367.85,339.95 L372.55,344.25 M367.85,344.25 L372.55,339.95" stroke="#000" stroke-width="1.3" fill="none"/>
<path d="M371.65,338.95 L376.35,343.25 M371.65,343.25 L376.35,338.95" stroke="#000" stroke-width="1.3" fill="none"/>
<path d="M375.45,338.05 L380.15,342.35 M375.45,342.35 L380.15,338.05" stroke="#000" stroke-width="1.3" fill="none"/>
<path d="M379.15,337.25 L383.85,341.55 M379.15,341.55 L383.85,337.25" stroke="#000" stroke-width="1.3" fill="none"/>
<polyline points="302.00,436.50 313.60,388.70 325.50,372.90 335.80,364.00 346.00,358.40 356.50,353.60 364.40,350.00 373.00,347.90 381.50,346.00 390.40,344.30" fill="none" stroke="#555" stroke-width="0.8" stroke-linejoin="round"/>
<rect x="300.00" y="434.50" width="4.00" height="4.00" fill="#fff" stroke="#555" stroke-width="0.8"/>
<rect x="311.60" y="386.70" width="4.00" height="4.00" fill="#fff" stroke="#555" stroke-width="0.8"/>
<rect x="323.50" y="370.90" width="4.00" height="4.00" fill="#fff" stroke="#555" stroke-width="0.8"/>
<rect x="333.80" y="362.00" width="4.00" height="4.00" fill="#fff" stroke="#555" stroke-width="0.8"/>
<rect x="344.00" y="356.40" width="4.00" height="4.00" fill="#fff" stroke="#555" stroke-width="0.8"/>
<rect x="354.50" y="351.60" width="4.00" height="4.00" fill="#fff" stroke="#555" stroke-width="0.8"/>
<rect x="362.40" y="348.00" width="4.00" height="4.00" fill="#fff" stroke="#555" stroke-width="0.8"/>
<rect x="371.00" y="345.90" width="4.00" height="4.00" fill="#fff" stroke="#555" stroke-width="0.8"/>
<rect x="379.50" y="344.00" width="4.00" height="4.00" fill="#fff" stroke="#555" stroke-width="0.8"/>
<rect x="388.40" y="342.30" width="4.00" height="4.00" fill="#fff" stroke="#555" stroke-width="0.8"/>
<polyline points="302.30,432.10 311.20,391.50 321.20,375.50 330.00,366.90 338.30,361.00 345.80,357.50 353.20,354.60 360.10,352.60 366.50,350.70 373.00,349.30" fill="none" stroke="#333" stroke-width="0.8" stroke-linejoin="round"/>
<circle cx="302.30" cy="432.10" r="2.30" fill="#000"/>
<circle cx="311.20" cy="391.50" r="2.30" fill="#000"/>
<circle cx="321.20" cy="375.50" r="2.30" fill="#000"/>
<circle cx="330.00" cy="366.90" r="2.30" fill="#000"/>
<circle cx="338.30" cy="361.00" r="2.30" fill="#000"/>
<circle cx="345.80" cy="357.50" r="2.30" fill="#000"/>
<circle cx="353.20" cy="354.60" r="2.30" fill="#000"/>
<circle cx="360.10" cy="352.60" r="2.30" fill="#000"/>
<circle cx="366.50" cy="350.70" r="2.30" fill="#000"/>
<circle cx="373.00" cy="349.30" r="2.30" fill="#000"/>
<polyline points="302.30,439.60 311.60,402.40 321.50,387.90 330.80,380.10 339.30,375.50 347.20,371.50 355.10,368.90 362.20,367.20 369.40,365.50 375.80,364.30" fill="none" stroke="#555" stroke-width="0.8" stroke-linejoin="round"/>
<path d="M302.30,436.96 L304.70,441.36 L299.90,441.36Z" fill="#fff" stroke="#444" stroke-width="0.75"/>
<path d="M311.60,399.76 L314.00,404.16 L309.20,404.16Z" fill="#fff" stroke="#444" stroke-width="0.75"/>
<path d="M321.50,385.26 L323.90,389.66 L319.10,389.66Z" fill="#fff" stroke="#444" stroke-width="0.75"/>
<path d="M330.80,377.46 L333.20,381.86 L328.40,381.86Z" fill="#fff" stroke="#444" stroke-width="0.75"/>
<path d="M339.30,372.86 L341.70,377.26 L336.90,377.26Z" fill="#fff" stroke="#444" stroke-width="0.75"/>
<path d="M347.20,368.86 L349.60,373.26 L344.80,373.26Z" fill="#fff" stroke="#444" stroke-width="0.75"/>
<path d="M355.10,366.26 L357.50,370.66 L352.70,370.66Z" fill="#fff" stroke="#444" stroke-width="0.75"/>
<path d="M362.20,364.56 L364.60,368.96 L359.80,368.96Z" fill="#fff" stroke="#444" stroke-width="0.75"/>
<path d="M369.40,362.86 L371.80,367.26 L367.00,367.26Z" fill="#fff" stroke="#444" stroke-width="0.75"/>
<path d="M375.80,361.66 L378.20,366.06 L373.40,366.06Z" fill="#fff" stroke="#444" stroke-width="0.75"/>
<polyline points="328.80,428.90 363.50,396.40 395.50,384.60 424.30,379.10 460.00,373.50" fill="none" stroke="#444" stroke-width="0.8" stroke-linejoin="round"/>
<circle cx="328.80" cy="428.90" r="1.95" fill="#fff" stroke="#333" stroke-width="0.8"/>
<circle cx="363.50" cy="396.40" r="1.95" fill="#fff" stroke="#333" stroke-width="0.8"/>
<circle cx="395.50" cy="384.60" r="1.95" fill="#fff" stroke="#333" stroke-width="0.8"/>
<circle cx="424.30" cy="379.10" r="1.95" fill="#fff" stroke="#333" stroke-width="0.8"/>
<polyline points="332.30,428.40 374.80,393.50 416.40,380.00 460.00,373.50" fill="none" stroke="#444" stroke-width="0.8" stroke-linejoin="round"/>
<path d="M332.30,425.52 L335.10,430.32 L329.50,430.32Z" fill="#000"/>
<path d="M374.80,390.62 L377.60,395.42 L372.00,395.42Z" fill="#000"/>
<path d="M416.40,377.12 L419.20,381.92 L413.60,381.92Z" fill="#000"/>
</g>
<rect x="282.5" y="285.3" width="162.3" height="162.0" fill="none" stroke="#3a3a3a" stroke-width="1.15"/>
<line x1="314.96" y1="447.3" x2="314.96" y2="444.8" stroke="#3a3a3a" stroke-width="1"/>
<line x1="347.42" y1="447.3" x2="347.42" y2="444.8" stroke="#3a3a3a" stroke-width="1"/>
<line x1="379.88" y1="447.3" x2="379.88" y2="444.8" stroke="#3a3a3a" stroke-width="1"/>
<line x1="412.34" y1="447.3" x2="412.34" y2="444.8" stroke="#3a3a3a" stroke-width="1"/>
<line x1="282.5" y1="339.30" x2="285.0" y2="339.30" stroke="#3a3a3a" stroke-width="1"/>
<line x1="282.5" y1="393.30" x2="285.0" y2="393.30" stroke="#3a3a3a" stroke-width="1"/>
<text transform="translate(282.50,465.75) scale(1,1.07)" font-size="11.4" text-anchor="middle" fill="#111" stroke="#111" stroke-width="0.2">0</text>
<text transform="translate(314.96,465.75) scale(1,1.07)" font-size="11.4" text-anchor="middle" fill="#111" stroke="#111" stroke-width="0.2">4</text>
<text transform="translate(347.42,465.75) scale(1,1.07)" font-size="11.4" text-anchor="middle" fill="#111" stroke="#111" stroke-width="0.2">8</text>
<text transform="translate(379.88,465.75) scale(1,1.07)" font-size="11.4" text-anchor="middle" fill="#111" stroke="#111" stroke-width="0.2">12</text>
<text transform="translate(412.34,465.75) scale(1,1.07)" font-size="11.4" text-anchor="middle" fill="#111" stroke="#111" stroke-width="0.2">16</text>
<text transform="translate(444.80,465.75) scale(1,1.07)" font-size="11.4" text-anchor="middle" fill="#111" stroke="#111" stroke-width="0.2">20</text>
<text transform="translate(271.10,452.00) scale(1,1.07)" font-size="11.4" text-anchor="end" fill="#111" stroke="#111" stroke-width="0.2">0.4</text>
<text transform="translate(271.10,398.00) scale(1,1.07)" font-size="11.4" text-anchor="end" fill="#111" stroke="#111" stroke-width="0.2">0.6</text>
<text transform="translate(271.10,344.00) scale(1,1.07)" font-size="11.4" text-anchor="end" fill="#111" stroke="#111" stroke-width="0.2">0.8</text>
<text transform="translate(271.10,290.00) scale(1,1.07)" font-size="11.4" text-anchor="end" fill="#111" stroke="#111" stroke-width="0.2">1.0</text>
<text x="363.65" y="269.70" font-size="11.9" font-weight="bold" text-anchor="middle" fill="#000">Bone low (19.4 mm)</text>
<text x="237.90" y="271.00" font-size="14.4" font-weight="bold" fill="#000">e)</text>
<text transform="translate(245.70,366.30) rotate(-90)" font-size="13" text-anchor="middle" fill="#111" stroke="#111" stroke-width="0.2">Contrast recovery</text>
<text x="363.65" y="485.90" font-size="11.2" text-anchor="middle" fill="#111" stroke="#111" stroke-width="0.2">Noise [%]</text>
<line x1="548.58" y1="285.3" x2="548.58" y2="447.3" stroke="#e6e6e6" stroke-width="1"/>
<line x1="581.06" y1="285.3" x2="581.06" y2="447.3" stroke="#e6e6e6" stroke-width="1"/>
<line x1="613.54" y1="285.3" x2="613.54" y2="447.3" stroke="#e6e6e6" stroke-width="1"/>
<line x1="646.02" y1="285.3" x2="646.02" y2="447.3" stroke="#e6e6e6" stroke-width="1"/>
<line x1="516.1" y1="312.30" x2="678.5" y2="312.30" stroke="#e6e6e6" stroke-width="1"/>
<line x1="516.1" y1="339.30" x2="678.5" y2="339.30" stroke="#e6e6e6" stroke-width="1"/>
<line x1="516.1" y1="366.30" x2="678.5" y2="366.30" stroke="#e6e6e6" stroke-width="1"/>
<line x1="516.1" y1="393.30" x2="678.5" y2="393.30" stroke="#e6e6e6" stroke-width="1"/>
<line x1="516.1" y1="420.30" x2="678.5" y2="420.30" stroke="#e6e6e6" stroke-width="1"/>
<g clip-path="url(#clipf)">
<polyline points="532.60,444.90 536.60,403.70 543.30,384.40 549.90,375.50 555.90,368.90 560.90,364.30 565.90,361.20 571.00,358.60 575.50,356.50 580.00,354.60 584.40,352.90 588.80,351.40 593.10,350.10 597.40,348.90 601.70,347.90 605.90,347.00 610.20,346.40 614.50,345.80" fill="none" stroke="#000" stroke-width="1.0" stroke-linejoin="round"/>
<path d="M530.25,442.75 L534.95,447.05 M530.25,447.05 L534.95,442.75" stroke="#000" stroke-width="1.3" fill="none"/>
<path d="M534.25,401.55 L538.95,405.85 M534.25,405.85 L538.95,401.55" stroke="#000" stroke-width="1.3" fill="none"/>
<path d="M540.95,382.25 L545.65,386.55 M540.95,386.55 L545.65,382.25" stroke="#000" stroke-width="1.3" fill="none"/>
<path d="M547.55,373.35 L552.25,377.65 M547.55,377.65 L552.25,373.35" stroke="#000" stroke-width="1.3" fill="none"/>
<path d="M553.55,366.75 L558.25,371.05 M553.55,371.05 L558.25,366.75" stroke="#000" stroke-width="1.3" fill="none"/>
<path d="M558.55,362.15 L563.25,366.45 M558.55,366.45 L563.25,362.15" stroke="#000" stroke-width="1.3" fill="none"/>
<path d="M563.55,359.05 L568.25,363.35 M563.55,363.35 L568.25,359.05" stroke="#000" stroke-width="1.3" fill="none"/>
<path d="M568.65,356.45 L573.35,360.75 M568.65,360.75 L573.35,356.45" stroke="#000" stroke-width="1.3" fill="none"/>
<path d="M573.15,354.35 L577.85,358.65 M573.15,358.65 L577.85,354.35" stroke="#000" stroke-width="1.3" fill="none"/>
<path d="M577.65,352.45 L582.35,356.75 M577.65,356.75 L582.35,352.45" stroke="#000" stroke-width="1.3" fill="none"/>
<path d="M582.05,350.75 L586.75,355.05 M582.05,355.05 L586.75,350.75" stroke="#000" stroke-width="1.3" fill="none"/>
<path d="M586.45,349.25 L591.15,353.55 M586.45,353.55 L591.15,349.25" stroke="#000" stroke-width="1.3" fill="none"/>
<path d="M590.75,347.95 L595.45,352.25 M590.75,352.25 L595.45,347.95" stroke="#000" stroke-width="1.3" fill="none"/>
<path d="M595.05,346.75 L599.75,351.05 M595.05,351.05 L599.75,346.75" stroke="#000" stroke-width="1.3" fill="none"/>
<path d="M599.35,345.75 L604.05,350.05 M599.35,350.05 L604.05,345.75" stroke="#000" stroke-width="1.3" fill="none"/>
<path d="M603.55,344.85 L608.25,349.15 M603.55,349.15 L608.25,344.85" stroke="#000" stroke-width="1.3" fill="none"/>
<path d="M607.85,344.25 L612.55,348.55 M607.85,348.55 L612.55,344.25" stroke="#000" stroke-width="1.3" fill="none"/>
<path d="M612.15,343.65 L616.85,347.95 M612.15,347.95 L616.85,343.65" stroke="#000" stroke-width="1.3" fill="none"/>
<polyline points="536.10,436.90 546.60,394.70 558.50,378.40 569.50,369.30 579.50,363.60 589.10,359.30 598.10,356.50 606.70,354.00 615.30,352.20 623.40,350.30" fill="none" stroke="#555" stroke-width="0.8" stroke-linejoin="round"/>
<rect x="534.10" y="434.90" width="4.00" height="4.00" fill="#fff" stroke="#555" stroke-width="0.8"/>
<rect x="544.60" y="392.70" width="4.00" height="4.00" fill="#fff" stroke="#555" stroke-width="0.8"/>
<rect x="556.50" y="376.40" width="4.00" height="4.00" fill="#fff" stroke="#555" stroke-width="0.8"/>
<rect x="567.50" y="367.30" width="4.00" height="4.00" fill="#fff" stroke="#555" stroke-width="0.8"/>
<rect x="577.50" y="361.60" width="4.00" height="4.00" fill="#fff" stroke="#555" stroke-width="0.8"/>
<rect x="587.10" y="357.30" width="4.00" height="4.00" fill="#fff" stroke="#555" stroke-width="0.8"/>
<rect x="596.10" y="354.50" width="4.00" height="4.00" fill="#fff" stroke="#555" stroke-width="0.8"/>
<rect x="604.70" y="352.00" width="4.00" height="4.00" fill="#fff" stroke="#555" stroke-width="0.8"/>
<rect x="613.30" y="350.20" width="4.00" height="4.00" fill="#fff" stroke="#555" stroke-width="0.8"/>
<rect x="621.40" y="348.30" width="4.00" height="4.00" fill="#fff" stroke="#555" stroke-width="0.8"/>
<polyline points="535.30,433.70 544.70,391.80 554.50,374.60 563.30,365.00 571.60,359.30 579.50,355.50 587.10,352.60 594.20,350.00 600.50,348.30 606.70,346.90" fill="none" stroke="#333" stroke-width="0.8" stroke-linejoin="round"/>
<circle cx="535.30" cy="433.70" r="2.30" fill="#000"/>
<circle cx="544.70" cy="391.80" r="2.30" fill="#000"/>
<circle cx="554.50" cy="374.60" r="2.30" fill="#000"/>
<circle cx="563.30" cy="365.00" r="2.30" fill="#000"/>
<circle cx="571.60" cy="359.30" r="2.30" fill="#000"/>
<circle cx="579.50" cy="355.50" r="2.30" fill="#000"/>
<circle cx="587.10" cy="352.60" r="2.30" fill="#000"/>
<circle cx="594.20" cy="350.00" r="2.30" fill="#000"/>
<circle cx="600.50" cy="348.30" r="2.30" fill="#000"/>
<circle cx="606.70" cy="346.90" r="2.30" fill="#000"/>
<polyline points="535.30,442.20 544.60,405.50 554.70,390.80 564.20,383.20 572.80,378.60 580.90,375.50 588.50,372.90 595.90,371.20 602.80,369.80 609.50,368.30" fill="none" stroke="#555" stroke-width="0.8" stroke-linejoin="round"/>
<path d="M535.30,439.56 L537.70,443.96 L532.90,443.96Z" fill="#fff" stroke="#444" stroke-width="0.75"/>
<path d="M544.60,402.86 L547.00,407.26 L542.20,407.26Z" fill="#fff" stroke="#444" stroke-width="0.75"/>
<path d="M554.70,388.16 L557.10,392.56 L552.30,392.56Z" fill="#fff" stroke="#444" stroke-width="0.75"/>
<path d="M564.20,380.56 L566.60,384.96 L561.80,384.96Z" fill="#fff" stroke="#444" stroke-width="0.75"/>
<path d="M572.80,375.96 L575.20,380.36 L570.40,380.36Z" fill="#fff" stroke="#444" stroke-width="0.75"/>
<path d="M580.90,372.86 L583.30,377.26 L578.50,377.26Z" fill="#fff" stroke="#444" stroke-width="0.75"/>
<path d="M588.50,370.26 L590.90,374.66 L586.10,374.66Z" fill="#fff" stroke="#444" stroke-width="0.75"/>
<path d="M595.90,368.56 L598.30,372.96 L593.50,372.96Z" fill="#fff" stroke="#444" stroke-width="0.75"/>
<path d="M602.80,367.16 L605.20,371.56 L600.40,371.56Z" fill="#fff" stroke="#444" stroke-width="0.75"/>
<path d="M609.50,365.66 L611.90,370.06 L607.10,370.06Z" fill="#fff" stroke="#444" stroke-width="0.75"/>
<polyline points="561.80,431.10 597.40,396.40 628.90,383.60 657.50,377.30 695.00,371.00" fill="none" stroke="#444" stroke-width="0.8" stroke-linejoin="round"/>
<circle cx="561.80" cy="431.10" r="1.95" fill="#fff" stroke="#333" stroke-width="0.8"/>
<circle cx="597.40" cy="396.40" r="1.95" fill="#fff" stroke="#333" stroke-width="0.8"/>
<circle cx="628.90" cy="383.60" r="1.95" fill="#fff" stroke="#333" stroke-width="0.8"/>
<circle cx="657.50" cy="377.30" r="1.95" fill="#fff" stroke="#333" stroke-width="0.8"/>
<polyline points="565.30,432.10 608.00,398.00 650.30,384.70 695.00,378.00" fill="none" stroke="#444" stroke-width="0.8" stroke-linejoin="round"/>
<path d="M565.30,429.22 L568.10,434.02 L562.50,434.02Z" fill="#000"/>
<path d="M608.00,395.12 L610.80,399.92 L605.20,399.92Z" fill="#000"/>
<path d="M650.30,381.82 L653.10,386.62 L647.50,386.62Z" fill="#000"/>
</g>
<rect x="516.1" y="285.3" width="162.4" height="162.0" fill="none" stroke="#3a3a3a" stroke-width="1.15"/>
<line x1="548.58" y1="447.3" x2="548.58" y2="444.8" stroke="#3a3a3a" stroke-width="1"/>
<line x1="581.06" y1="447.3" x2="581.06" y2="444.8" stroke="#3a3a3a" stroke-width="1"/>
<line x1="613.54" y1="447.3" x2="613.54" y2="444.8" stroke="#3a3a3a" stroke-width="1"/>
<line x1="646.02" y1="447.3" x2="646.02" y2="444.8" stroke="#3a3a3a" stroke-width="1"/>
<line x1="516.1" y1="339.30" x2="518.6" y2="339.30" stroke="#3a3a3a" stroke-width="1"/>
<line x1="516.1" y1="393.30" x2="518.6" y2="393.30" stroke="#3a3a3a" stroke-width="1"/>
<text transform="translate(516.10,465.75) scale(1,1.07)" font-size="11.4" text-anchor="middle" fill="#111" stroke="#111" stroke-width="0.2">0</text>
<text transform="translate(548.58,465.75) scale(1,1.07)" font-size="11.4" text-anchor="middle" fill="#111" stroke="#111" stroke-width="0.2">4</text>
<text transform="translate(581.06,465.75) scale(1,1.07)" font-size="11.4" text-anchor="middle" fill="#111" stroke="#111" stroke-width="0.2">8</text>
<text transform="translate(613.54,465.75) scale(1,1.07)" font-size="11.4" text-anchor="middle" fill="#111" stroke="#111" stroke-width="0.2">12</text>
<text transform="translate(646.02,465.75) scale(1,1.07)" font-size="11.4" text-anchor="middle" fill="#111" stroke="#111" stroke-width="0.2">16</text>
<text transform="translate(678.50,465.75) scale(1,1.07)" font-size="11.4" text-anchor="middle" fill="#111" stroke="#111" stroke-width="0.2">20</text>
<text transform="translate(504.70,452.00) scale(1,1.07)" font-size="11.4" text-anchor="end" fill="#111" stroke="#111" stroke-width="0.2">0.4</text>
<text transform="translate(504.70,398.00) scale(1,1.07)" font-size="11.4" text-anchor="end" fill="#111" stroke="#111" stroke-width="0.2">0.6</text>
<text transform="translate(504.70,344.00) scale(1,1.07)" font-size="11.4" text-anchor="end" fill="#111" stroke="#111" stroke-width="0.2">0.8</text>
<text transform="translate(504.70,290.00) scale(1,1.07)" font-size="11.4" text-anchor="end" fill="#111" stroke="#111" stroke-width="0.2">1.0</text>
<text x="597.30" y="269.70" font-size="11.9" font-weight="bold" text-anchor="middle" fill="#000">Bone high (19.4 mm)</text>
<text x="471.60" y="271.00" font-size="14.4" font-weight="bold" fill="#000">f)</text>
<text transform="translate(479.30,366.30) rotate(-90)" font-size="13" text-anchor="middle" fill="#111" stroke="#111" stroke-width="0.2">Contrast recovery</text>
<text x="597.30" y="485.90" font-size="11.2" text-anchor="middle" fill="#111" stroke="#111" stroke-width="0.2">Noise [%]</text>
</svg>
</body></html>
